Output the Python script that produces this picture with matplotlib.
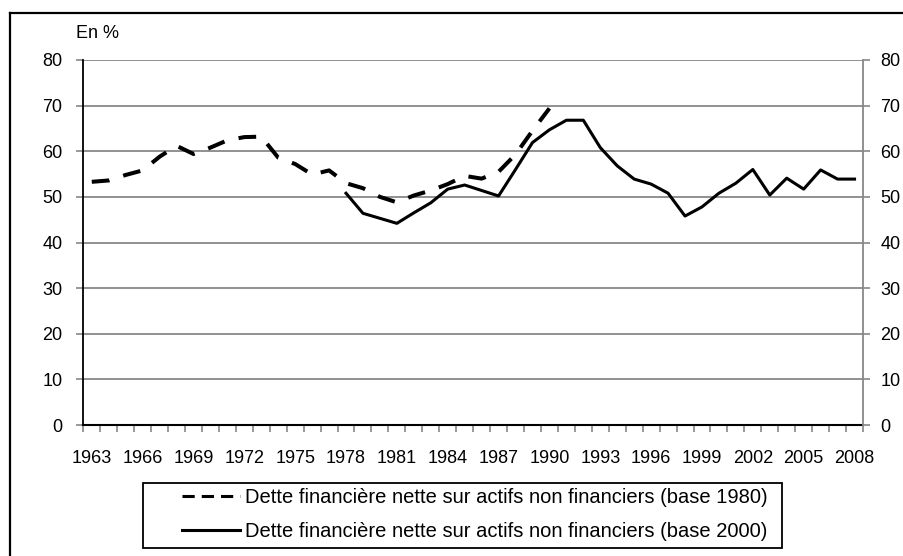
import matplotlib
matplotlib.use("Agg")
import matplotlib.pyplot as plt
from matplotlib.lines import Line2D
from matplotlib.patches import Rectangle
import numpy as np

plt.rcParams['font.family'] = ['Liberation Sans', 'DejaVu Sans']

years = list(range(1963, 2009))

# base 1980 series (1963-1990)
base1980 = [53.3, 53.6, 54.8, 55.8, 58.8, 61.2, 59.4, 60.8, 62.4, 63.1,
            63.2, 58.6, 57.2, 54.9, 55.8, 53.0, 51.9, 50.0, 48.8, 50.3,
            51.4, 52.8, 54.6, 54.0, 55.5, 59.3, 64.5, 69.4]

# base 2000 series (1978-2008)
base2000 = [50.8, 46.4, 45.3, 44.2, 46.5, 48.7, 51.7, 52.6, 51.4, 50.2,
            56.0, 61.9, 64.7, 66.8, 66.8, 60.8, 56.8, 53.9, 52.8, 50.8,
            45.8, 47.8, 50.8, 53.0, 56.0, 50.4, 54.1, 51.7, 55.9, 53.9,
            53.9]

label1980 = "Dette financière nette sur actifs non financiers (base 1980)"
label2000 = "Dette financière nette sur actifs non financiers (base 2000)"

W, H = 904, 556
grid_c = '#888888'

fig = plt.figure(figsize=(W / 100, H / 100), dpi=100)
ax = fig.add_axes([83.3 / W, 1 - 425 / H, (863 - 83.3) / W, 365 / H])

x1980 = np.arange(len(base1980))
x2000 = np.arange(len(base2000)) + years.index(1978)

ax.plot(x1980, base1980, color='black', lw=2.9, dashes=(4.4, 3.6))
ax.plot(x2000, base2000, color='black', lw=2.2)

ax.set_xlim(-0.5, len(years) - 0.5)
ax.set_ylim(0, 80)
ax.set_yticks(range(0, 81, 10))
ax.yaxis.grid(True, color=grid_c, lw=1.3)
ax.set_axisbelow(True)
ax.tick_params(axis='y', length=5, width=1.2, color=grid_c,
               labelsize=13, pad=10)

# right-hand scale (same values)
axr = ax.twinx()
axr.set_ylim(0, 80)
axr.set_yticks(range(0, 81, 10))
axr.tick_params(axis='y', length=5, width=1.2, color=grid_c,
                labelsize=13, pad=7.5)
for s in ['top', 'left', 'bottom']:
    axr.spines[s].set_visible(False)
axr.spines['right'].set_color(grid_c)
axr.spines['right'].set_linewidth(1.3)

ax.set_xticks(np.arange(0, len(years), 3))
ax.set_xticklabels([str(years[i]) for i in range(0, len(years), 3)])
ax.set_xticks(np.arange(-0.5, len(years), 1), minor=True)
ax.tick_params(axis='x', which='major', length=0, labelsize=13, pad=18)
ax.tick_params(axis='x', which='minor', length=5, width=1.2, color=grid_c)

ax.spines['top'].set_visible(False)
ax.spines['right'].set_visible(False)
ax.spines['left'].set_color('black')
ax.spines['left'].set_linewidth(1.3)
ax.spines['bottom'].set_color('black')
ax.spines['bottom'].set_linewidth(1.5)

fig.text(76.5 / W, 1 - 33 / H, "En %", fontsize=13, va='center', ha='left')

# outer chart frame (cut off at right and bottom)
fig.add_artist(Line2D([9.5 / W, 9.5 / W], [0, 1 - 12.7 / H],
                      transform=fig.transFigure, color='black', lw=1.6))
fig.add_artist(Line2D([9.5 / W, 1], [1 - 12.7 / H, 1 - 12.7 / H],
                      transform=fig.transFigure, color='black', lw=1.6))

# legend box
fig.add_artist(Rectangle((143.3 / W, 1 - 547.7 / H), (781.7 - 143.3) / W,
                         (547.7 - 483.3) / H, transform=fig.transFigure,
                         fill=False, edgecolor='black', lw=1.3))

handles = [Line2D([], [], color='black', lw=2.2, dashes=(4, 2.3)),
           Line2D([], [], color='black', lw=2.2)]
leg = fig.legend(handles, [label1980, label2000], loc='center left',
                 bbox_to_anchor=(181.7 / W, 1 - 514.5 / H),
                 fontsize=14.5, frameon=False,
                 handlelength=2.9, handletextpad=0.25, labelspacing=0.72,
                 borderpad=0, borderaxespad=0)

fig.savefig("out.png", dpi=100)
